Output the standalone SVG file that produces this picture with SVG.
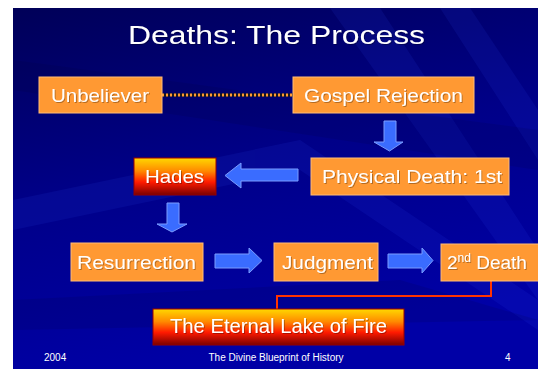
<svg xmlns="http://www.w3.org/2000/svg" width="538" height="369" viewBox="0 0 538 369">
<defs>
<linearGradient id="bg" x1="0" y1="0" x2="0.3" y2="1">
<stop offset="0" stop-color="#000058"/>
<stop offset="0.5" stop-color="#000088"/>
<stop offset="1" stop-color="#0000a6"/>
</linearGradient>
<linearGradient id="fire" x1="0" y1="0" x2="0" y2="1">
<stop offset="0" stop-color="#ffd800"/>
<stop offset="0.35" stop-color="#ff8a00"/>
<stop offset="0.65" stop-color="#ff1a00"/>
<stop offset="1" stop-color="#7a0000"/>
</linearGradient>
<filter id="sh" x="-10%" y="-20%" width="120%" height="140%">
<feDropShadow dx="1" dy="1" stdDeviation="0" flood-color="#000000" flood-opacity="0.3"/>
</filter>
</defs>
<style>
.box{fill:#ff9933;stroke:#ffbb77;stroke-width:1}
.fire{fill:url(#fire);stroke:#990000;stroke-width:1}
.t{font-family:"Liberation Sans",Arial,sans-serif;fill:#ffffff;text-anchor:middle}
.lbl{font-size:19px;filter:url(#sh)}
.arr{fill:#3a6cff;stroke:#7a9cff;stroke-width:1}
.ft{font-family:"Liberation Sans",Arial,sans-serif;fill:#ffffff;font-size:10px}
</style>
<rect x="13" y="8" width="525" height="361" fill="url(#bg)"/>
<g opacity="0.1" fill="#3355ff">
<polygon points="330,8 380,8 538,250 538,300"/>
<polygon points="440,8 470,8 538,110 538,160"/>
<polygon points="13,200 300,140 538,300 538,330 300,170 13,230"/>
</g>
<g opacity="0.12" fill="#000030">
<polygon points="13,60 538,130 538,170 13,90"/>
<polygon points="13,300 400,280 538,320 13,330"/>
</g>
<text class="t" x="276.5" y="44" font-size="25" textLength="297" lengthAdjust="spacingAndGlyphs" filter="url(#sh)">Deaths: The Process</text>
<g id="connectors">
<line x1="162" y1="95" x2="293" y2="95" stroke="#1a1a1a" stroke-width="3"/>
<line x1="162" y1="95" x2="293" y2="95" stroke="#ff9933" stroke-width="3" stroke-dasharray="2 2"/>
<polygon class="arr" points="384,121 396,121 396,142 403,142 389.5,151 374,142 384,142"/>
<polygon class="arr" points="298,169 298,181 241,181 241,188 225,175.5 241,163 241,169"/>
<polygon class="arr" points="167,203 179,203 179,224 187,224 172,232 157,224 167,224"/>
<polygon class="arr" points="215,254 249,254 249,248 262,260.5 249,273 249,268 215,268"/>
<polygon class="arr" points="388,254 422,254 422,248 433,260.5 422,273 422,268 388,268"/>
<path d="M491,281 V296 H277 V309" fill="none" stroke="#ff3300" stroke-width="2"/>
</g>
<g id="unbeliever">
<rect class="box" x="39" y="77" width="123" height="36"/>
<text class="t lbl" x="100" y="102" textLength="98" lengthAdjust="spacingAndGlyphs">Unbeliever</text>
</g>
<g id="gospel-rejection">
<rect class="box" x="293" y="77" width="181" height="36"/>
<text class="t lbl" x="383.5" y="102" textLength="159" lengthAdjust="spacingAndGlyphs">Gospel Rejection</text>
</g>
<g id="hades">
<rect class="fire" x="134" y="158" width="82" height="37"/>
<text class="t lbl" x="174.5" y="183" textLength="59" lengthAdjust="spacingAndGlyphs">Hades</text>
</g>
<g id="physical-death">
<rect class="box" x="311" y="158" width="198" height="37"/>
<text class="t lbl" x="412" y="183" textLength="180" lengthAdjust="spacingAndGlyphs">Physical Death: 1st</text>
</g>
<g id="resurrection">
<rect class="box" x="71" y="243" width="132" height="38"/>
<text class="t lbl" x="136.5" y="269" textLength="119" lengthAdjust="spacingAndGlyphs">Resurrection</text>
</g>
<g id="judgment">
<rect class="box" x="274" y="243" width="104" height="38"/>
<text class="t lbl" x="327.5" y="269" textLength="91" lengthAdjust="spacingAndGlyphs">Judgment</text>
</g>
<g id="second-death">
<rect class="box" x="441" y="244" width="100" height="37"/>
<text class="t lbl" x="447" y="269" style="text-anchor:start">2<tspan font-size="12" dy="-7">nd</tspan><tspan dy="7"> Death</tspan></text>
</g>
<g id="lake-of-fire">
<rect class="fire" x="153" y="309" width="251" height="36"/>
<text class="t lbl" x="278.5" y="333" textLength="217" lengthAdjust="spacingAndGlyphs" style="font-size:20px">The Eternal Lake of Fire</text>
</g>
<text class="ft" x="44" y="361">2004</text>
<text class="ft" x="276" y="361" text-anchor="middle">The Divine Blueprint of History</text>
<text class="ft" x="505" y="361">4</text>
</svg>
